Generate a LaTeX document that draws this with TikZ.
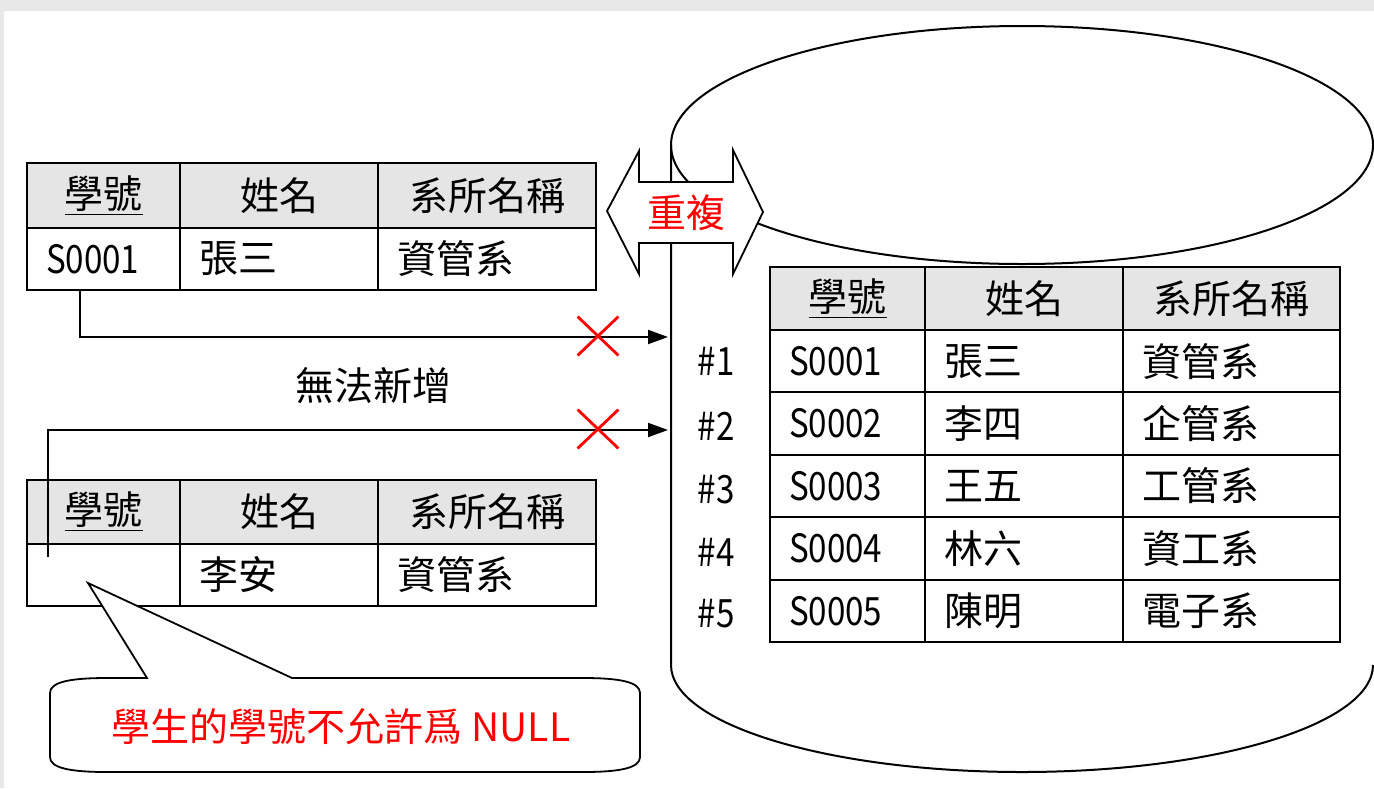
\documentclass[tikz,border=0pt]{standalone}
\usepackage{fontspec}
\setmainfont{Noto Sans CJK TC}
\newfontfamily\narrowfont[FakeStretch=0.85]{Noto Sans CJK TC}
\usetikzlibrary{arrows.meta,shapes.misc,calc}
\definecolor{hdrgray}{RGB}{229,229,229}
\definecolor{edgegray}{RGB}{232,232,232}
\begin{document}
\begin{tikzpicture}[x=0.5pt,y=-0.5pt,
  txt/.style={font=\fontsize{19.5pt}{22pt}\selectfont},
  hcell/.style={txt, draw, line width=1pt, fill=hdrgray, anchor=north west, inner sep=0pt, outer sep=0pt},
  dcell/.style={txt, draw, line width=1pt, fill=white, anchor=north west, inner xsep=9.5pt, inner ysep=0pt, outer sep=0pt, align=left},
  cyl/.style={line width=1pt},
  conn/.style={line width=1pt, -{Triangle[length=10pt,width=7pt]}},
  xmark/.style={cross out, draw=red, line width=1.4pt, minimum width=19pt, minimum height=18pt, inner sep=0pt},
  redtxt/.style={txt, text=red},
  outline/.style={draw, line width=0.9pt, fill=white}
]
\useasboundingbox (0,0) rectangle (1374,788);
\fill[white] (0,0) rectangle (1374,788);
\fill[edgegray] (0,0) rectangle (1374,11);
\fill[edgegray] (0,0) rectangle (4,788);

% cylinder
\draw[cyl] (1022,145) ellipse[x radius=175.5pt, y radius=59.5pt];
\draw[cyl] (671,145) -- (671,665) arc[start angle=180, end angle=360, x radius=175.5pt, y radius=53.5pt];

% left top table
\node[hcell, minimum width=76.5pt, minimum height=32.5pt] (a1) at (27,163) {\underline{學號}};
\node[hcell, minimum width=99pt, minimum height=32.5pt] (a2) at (a1.north east) {姓名};
\node[hcell, minimum width=109pt, minimum height=32.5pt] (a3) at (a2.north east) {系所名稱};
\node[dcell, text width=57.5pt, minimum height=31pt] (a4) at (a1.south west) {\narrowfont S0001};
\node[dcell, text width=80pt, minimum height=31pt] (a5) at (a2.south west) {張三};
\node[dcell, text width=90pt, minimum height=31pt] (a6) at (a3.south west) {資管系};

% left bottom table
\node[hcell, minimum width=76.5pt, minimum height=32pt] (b1) at (27,480) {\underline{學號}};
\node[hcell, minimum width=99pt, minimum height=32pt] (b2) at (b1.north east) {姓名};
\node[hcell, minimum width=109pt, minimum height=32pt] (b3) at (b2.north east) {系所名稱};
\node[dcell, text width=57.5pt, minimum height=31pt] (b4) at (b1.south west) {};
\node[dcell, text width=80pt, minimum height=31pt] (b5) at (b2.south west) {李安};
\node[dcell, text width=90pt, minimum height=31pt] (b6) at (b3.south west) {資管系};

% right table
\node[hcell, minimum width=77.5pt, minimum height=31.5pt] (r1) at (770,267) {\underline{學號}};
\node[hcell, minimum width=99pt, minimum height=31.5pt] (r2) at (r1.north east) {姓名};
\node[hcell, minimum width=108.5pt, minimum height=31.5pt] (r3) at (r2.north east) {系所名稱};
\node[dcell, text width=58.5pt, minimum height=31.2pt] (c11) at (r1.south west) {\narrowfont S0001};
\node[dcell, text width=80pt, minimum height=31.2pt] (c12) at (r2.south west) {張三};
\node[dcell, text width=89.5pt, minimum height=31.2pt] (c13) at (r3.south west) {資管系};
\node[dcell, text width=58.5pt, minimum height=31.2pt] (c21) at (c11.south west) {\narrowfont S0002};
\node[dcell, text width=80pt, minimum height=31.2pt] (c22) at (c12.south west) {李四};
\node[dcell, text width=89.5pt, minimum height=31.2pt] (c23) at (c13.south west) {企管系};
\node[dcell, text width=58.5pt, minimum height=31.2pt] (c31) at (c21.south west) {\narrowfont S0003};
\node[dcell, text width=80pt, minimum height=31.2pt] (c32) at (c22.south west) {王五};
\node[dcell, text width=89.5pt, minimum height=31.2pt] (c33) at (c23.south west) {工管系};
\node[dcell, text width=58.5pt, minimum height=31.2pt] (c41) at (c31.south west) {\narrowfont S0004};
\node[dcell, text width=80pt, minimum height=31.2pt] (c42) at (c32.south west) {林六};
\node[dcell, text width=89.5pt, minimum height=31.2pt] (c43) at (c33.south west) {資工系};
\node[dcell, text width=58.5pt, minimum height=31.2pt] (c51) at (c41.south west) {\narrowfont S0005};
\node[dcell, text width=80pt, minimum height=31.2pt] (c52) at (c42.south west) {陳明};
\node[dcell, text width=89.5pt, minimum height=31.2pt] (c53) at (c43.south west) {電子系};

% row labels
\node[txt] (n1) at (716,361) {\narrowfont\#1};
\node[txt] (n2) at (716,426) {\narrowfont\#2};
\node[txt] (n3) at (716,490) {\narrowfont\#3};
\node[txt] (n4) at (716,552) {\narrowfont\#4};
\node[txt] (n5) at (716,614) {\narrowfont\#5};

% connectors
\coordinate (w1) at (668,337);
\coordinate (w2) at (668,430);
\coordinate (s1) at ($(a4.south west)+(53,0)$);
\coordinate (s2) at ($(b4.north west)+(21,13)$);
\draw[conn] (s1) |- (w1);
\draw[conn] (s2) |- (w2);
\node[xmark] (x1) at (598,336) {};
\node[xmark] (x2) at (598,429) {};
\node[txt] (cant) at (373,386) {無法新增};

% duplicate double arrow
\draw[outline] (607,211) -- (639,151) -- (639,182) -- (733,182) -- (733,150) -- (763,212) -- (733,274) -- (733,243) -- (639,243) -- (639,274) -- cycle;
\node[redtxt] (dup) at (686,213) {重複};

% callout
\draw[outline] (147,678) -- (88,583) -- (292,678) -- (583,678)
  .. controls (620,678) and (640,682) .. (640,693) -- (640,757)
  .. controls (640,768) and (620,772) .. (583,772) -- (107,772)
  .. controls (70,772) and (50,768) .. (50,757) -- (50,693)
  .. controls (50,682) and (70,678) .. (107,678) -- cycle;
\node[redtxt] (note) at (341,727) {學生的學號不允許爲 NULL};
\end{tikzpicture}
\end{document}
